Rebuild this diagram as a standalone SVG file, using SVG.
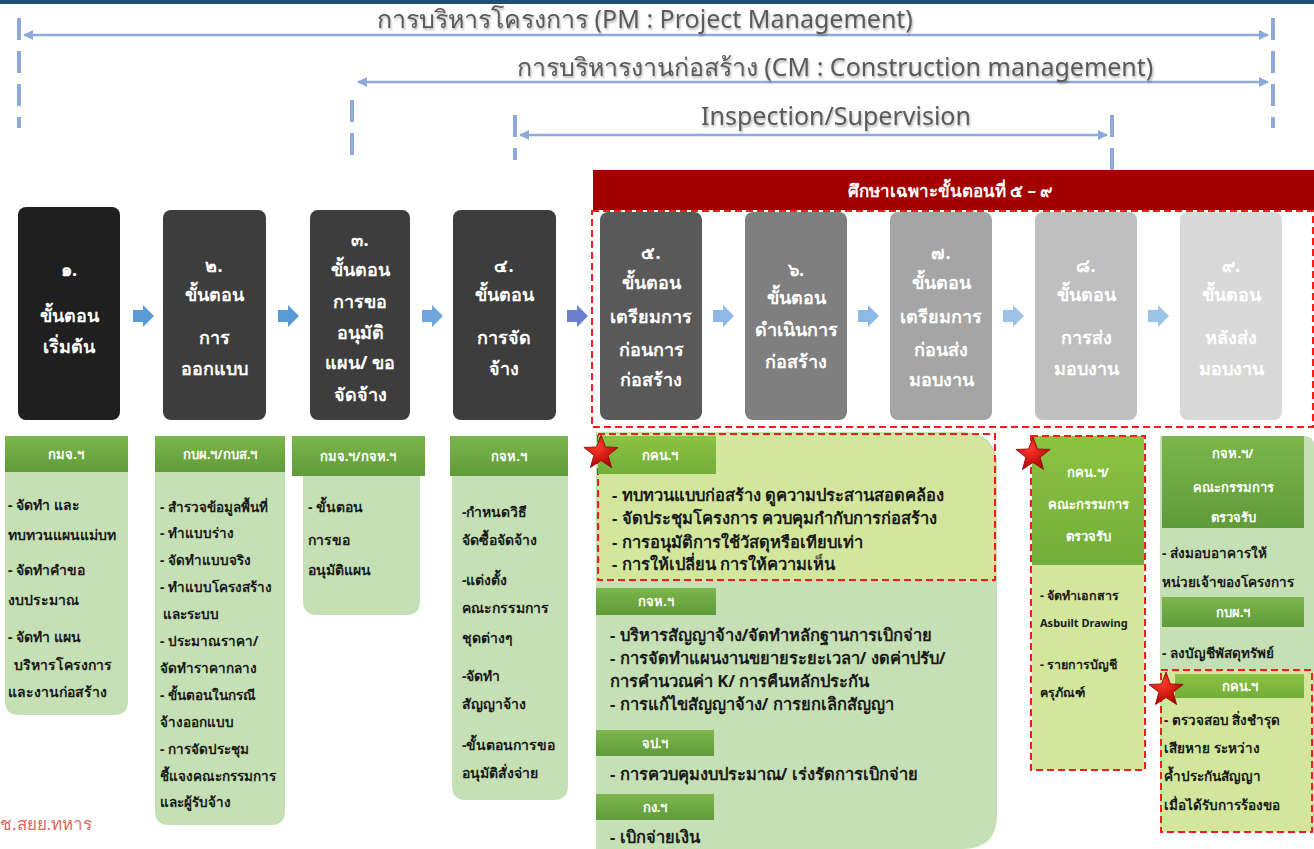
<svg xmlns="http://www.w3.org/2000/svg" width="1314" height="849" viewBox="0 0 1314 849">
<defs>
<style>
.ttl{font-family:"Noto Sans","DejaVu Sans",sans-serif;font-size:25px;fill:#5a5a5a;text-anchor:middle}
.bx{font-family:"Noto Sans","DejaVu Sans",sans-serif;font-size:18px;fill:#ffffff;text-anchor:middle;font-weight:bold}
.hd{font-family:"Noto Sans","DejaVu Sans",sans-serif;font-size:13px;fill:#ffffff;text-anchor:middle;font-weight:bold}
.it{font-family:"Noto Sans","DejaVu Sans",sans-serif;font-size:14px;fill:#1a1a1a;font-weight:bold}
.its{font-family:"Noto Sans","DejaVu Sans",sans-serif;font-size:13.5px;fill:#1a1a1a;font-weight:bold}
.itw{font-family:"Noto Sans","DejaVu Sans",sans-serif;font-size:16.5px;fill:#1a1a1a;font-weight:bold}
.itn{font-family:"Noto Sans","DejaVu Sans",sans-serif;font-size:12.5px;fill:#1a1a1a;font-weight:bold}
.ban{font-family:"Noto Sans","DejaVu Sans",sans-serif;font-size:17px;fill:#ffffff;text-anchor:middle;font-weight:bold}
.vd{stroke:#8eaadb;stroke-width:4;stroke-dasharray:22 11;fill:none}
.hl{stroke:#8eaadb;stroke-width:2.5;fill:none}
.pn{fill:#c5e0b4}
.yg{fill:#d3e79c}
.rd{fill:none;stroke:#ff1a1a;stroke-width:2;stroke-dasharray:7 4}
</style>
<linearGradient id="gh" x1="0" y1="0" x2="0" y2="1">
<stop offset="0" stop-color="#7db64c"/>
<stop offset="1" stop-color="#5f9b39"/>
</linearGradient>
<linearGradient id="gh2" x1="0" y1="0" x2="0" y2="1">
<stop offset="0" stop-color="#8cc341"/>
<stop offset="1" stop-color="#72ad3a"/>
</linearGradient>
<radialGradient id="sg" cx="0.4" cy="0.35" r="0.7">
<stop offset="0" stop-color="#ff3a2a"/>
<stop offset="1" stop-color="#a80000"/>
</radialGradient>
<marker id="ah" viewBox="0 0 10 10" refX="9" refY="5" markerWidth="4" markerHeight="4" orient="auto-start-reverse">
<path d="M0,0 L10,5 L0,10 Z" fill="#8eaadb"/>
</marker>
<path id="star" d="M0,-18 L4.41,-6.07 L17.12,-5.56 L7.13,2.32 L10.58,14.56 L0,7.5 L-10.58,14.56 L-7.13,2.32 L-17.12,-5.56 L-4.41,-6.07 Z" fill="url(#sg)" stroke="#8a0000" stroke-width="0.8"/>
<path id="barr" d="M0,-6 H10 V-11 L21,0 L10,11 V6 H0 Z"/>
<filter id="sh" x="-5%" y="-20%" width="110%" height="150%">
<feDropShadow dx="1" dy="2" stdDeviation="1" flood-color="#000" flood-opacity="0.3"/>
</filter>
</defs>

<rect x="0" y="0" width="1314" height="849" fill="#ffffff"/>
<rect x="0" y="0" width="1314" height="4" fill="#1f4e79"/>

<g id="connectors">
<line class="vd" x1="19" y1="18" x2="19" y2="128"/>
<line class="vd" x1="1273" y1="18" x2="1273" y2="128"/>
<line class="vd" x1="352" y1="100" x2="352" y2="156"/>
<line class="vd" x1="515" y1="115" x2="515" y2="160"/>
<line class="vd" x1="1112" y1="115" x2="1112" y2="170"/>
<line class="hl" x1="24" y1="35" x2="1268" y2="35" marker-start="url(#ah)" marker-end="url(#ah)"/>
<line class="hl" x1="358" y1="82" x2="1268" y2="82" marker-start="url(#ah)" marker-end="url(#ah)"/>
<line class="hl" x1="520" y1="135" x2="1107" y2="135" marker-start="url(#ah)" marker-end="url(#ah)"/>
<use href="#barr" x="133" y="316" fill="#5b9bd5"/>
<use href="#barr" x="278" y="316" fill="#5b9bd5"/>
<use href="#barr" x="422" y="316" fill="#6fa7dc"/>
<use href="#barr" x="567" y="316" fill="#6b7fd0"/>
<use href="#barr" x="713" y="316" fill="#8cb8e6"/>
<use href="#barr" x="858" y="316" fill="#8cb8e6"/>
<use href="#barr" x="1003" y="316" fill="#9dc3e6"/>
<use href="#barr" x="1148" y="316" fill="#9dc3e6"/>
</g>

<g id="titles" filter="url(#sh)">
<text class="ttl" x="645" y="28">การบริหารโครงการ (PM : Project Management)</text>
<text class="ttl" x="835" y="76">การบริหารงานก่อสร้าง (CM : Construction management)</text>
<text class="ttl" x="836" y="125">Inspection/Supervision</text>
</g>

<g id="banner">
<rect x="593" y="170" width="721" height="40" fill="#a30000"/>
<text class="ban" x="950" y="197">ศึกษาเฉพาะขั้นตอนที่ ๕ – ๙</text>
<rect class="rd" x="592" y="211" width="721" height="216"/>
</g>

<g id="step1">
<rect x="18" y="207" width="102" height="213" rx="8" fill="#1f1f1f"/>
<text class="bx" x="69" y="276">๑.</text>
<text class="bx" x="69" y="322">ขั้นตอน</text>
<text class="bx" x="69" y="353">เริ่มต้น</text>
</g>
<g id="step2">
<rect x="163" y="210" width="103" height="210" rx="8" fill="#3d3d3d"/>
<text class="bx" x="214" y="272">๒.</text>
<text class="bx" x="214" y="301">ขั้นตอน</text>
<text class="bx" x="214" y="344">การ</text>
<text class="bx" x="214" y="375">ออกแบบ</text>
</g>
<g id="step3">
<rect x="310" y="210" width="100" height="210" rx="8" fill="#3d3d3d"/>
<text class="bx" x="360" y="246">๓.</text>
<text class="bx" x="360" y="276">ขั้นตอน</text>
<text class="bx" x="360" y="308">การขอ</text>
<text class="bx" x="360" y="339">อนุมัติ</text>
<text class="bx" x="360" y="369">แผน/ ขอ</text>
<text class="bx" x="360" y="401">จัดจ้าง</text>
</g>
<g id="step4">
<rect x="453" y="210" width="103" height="210" rx="8" fill="#3d3d3d"/>
<text class="bx" x="504" y="272">๔.</text>
<text class="bx" x="504" y="301">ขั้นตอน</text>
<text class="bx" x="504" y="344">การจัด</text>
<text class="bx" x="504" y="375">จ้าง</text>
</g>
<g id="step5">
<rect x="600" y="212" width="102" height="208" rx="8" fill="#595959"/>
<text class="bx" x="651" y="259">๕.</text>
<text class="bx" x="651" y="289">ขั้นตอน</text>
<text class="bx" x="651" y="323">เตรียมการ</text>
<text class="bx" x="651" y="356">ก่อนการ</text>
<text class="bx" x="651" y="386">ก่อสร้าง</text>
</g>
<g id="step6">
<rect x="745" y="212" width="102" height="208" rx="8" fill="#7f7f7f"/>
<text class="bx" x="796" y="276">๖.</text>
<text class="bx" x="796" y="304">ขั้นตอน</text>
<text class="bx" x="796" y="336">ดำเนินการ</text>
<text class="bx" x="796" y="368">ก่อสร้าง</text>
</g>
<g id="step7">
<rect x="890" y="212" width="102" height="208" rx="8" fill="#a5a5a5"/>
<text class="bx" x="941" y="259">๗.</text>
<text class="bx" x="941" y="289">ขั้นตอน</text>
<text class="bx" x="941" y="323">เตรียมการ</text>
<text class="bx" x="941" y="356">ก่อนส่ง</text>
<text class="bx" x="941" y="386">มอบงาน</text>
</g>
<g id="step8">
<rect x="1035" y="212" width="102" height="208" rx="8" fill="#bfbfbf"/>
<text class="bx" x="1086" y="272">๘.</text>
<text class="bx" x="1086" y="301">ขั้นตอน</text>
<text class="bx" x="1086" y="344">การส่ง</text>
<text class="bx" x="1086" y="375">มอบงาน</text>
</g>
<g id="step9">
<rect x="1180" y="212" width="102" height="208" rx="8" fill="#d9d9d9"/>
<text class="bx" x="1231" y="272">๙.</text>
<text class="bx" x="1231" y="301">ขั้นตอน</text>
<text class="bx" x="1231" y="344">หลังส่ง</text>
<text class="bx" x="1231" y="375">มอบงาน</text>
</g>

<g id="duty1">
<path class="pn" d="M5,436 H128 V701 Q128,715 114,715 H19 Q5,715 5,701 Z"/>
<rect x="5" y="436" width="123" height="36" fill="url(#gh)"/>
<text class="hd" x="66" y="459">กมจ.ฯ</text>
<text class="it" x="8" y="510">- จัดทำ และ</text>
<text class="it" x="8" y="540">ทบทวนแผนแม่บท</text>
<text class="it" x="8" y="575">- จัดทำคำขอ</text>
<text class="it" x="8" y="605">งบประมาณ</text>
<text class="it" x="8" y="642">- จัดทำ แผน</text>
<text class="it" x="14" y="670">บริหารโครงการ</text>
<text class="it" x="8" y="697">และงานก่อสร้าง</text>
</g>
<g id="duty2">
<path class="pn" d="M155,436 H285 V811 Q285,825 271,825 H169 Q155,825 155,811 Z"/>
<rect x="155" y="436" width="130" height="36" fill="url(#gh)"/>
<text class="hd" x="220" y="459">กบผ.ฯ/กบส.ฯ</text>
<text class="its" x="160" y="512">- สำรวจข้อมูลพื้นที่</text>
<text class="its" x="160" y="538">- ทำแบบร่าง</text>
<text class="its" x="160" y="565">- จัดทำแบบจริง</text>
<text class="its" x="160" y="592">- ทำแบบโครงสร้าง</text>
<text class="its" x="163" y="619">และระบบ</text>
<text class="its" x="160" y="646">- ประมาณราคา/</text>
<text class="its" x="160" y="673">จัดทำราคากลาง</text>
<text class="its" x="160" y="700">- ขั้นตอนในกรณี</text>
<text class="its" x="160" y="727">จ้างออกแบบ</text>
<text class="its" x="160" y="754">- การจัดประชุม</text>
<text class="its" x="160" y="781">ชี้แจงคณะกรรมการ</text>
<text class="its" x="160" y="807">และผู้รับจ้าง</text>
</g>
<g id="duty3">
<path class="pn" d="M303,436 H420 V601 Q420,615 406,615 H317 Q303,615 303,601 Z"/>
<rect x="292" y="436" width="133" height="40" fill="url(#gh)"/>
<text class="hd" x="358" y="461">กมจ.ฯ/กจห.ฯ</text>
<text class="it" x="308" y="512">- ขั้นตอน</text>
<text class="it" x="308" y="545">การขอ</text>
<text class="it" x="308" y="575">อนุมัติแผน</text>
</g>
<g id="duty4">
<path class="pn" d="M452,436 H568 V786 Q568,800 554,800 H466 Q452,800 452,786 Z"/>
<rect x="450" y="436" width="118" height="40" fill="url(#gh)"/>
<text class="hd" x="509" y="461">กจห.ฯ</text>
<text class="it" x="462" y="517">-กำหนดวิธี</text>
<text class="it" x="462" y="545">จัดซื้อจัดจ้าง</text>
<text class="it" x="462" y="585">-แต่งตั้ง</text>
<text class="it" x="462" y="613">คณะกรรมการ</text>
<text class="it" x="462" y="643">ชุดต่างๆ</text>
<text class="it" x="462" y="681">-จัดทำ</text>
<text class="it" x="462" y="709">สัญญาจ้าง</text>
<text class="it" x="462" y="750">-ขั้นตอนการขอ</text>
<text class="it" x="462" y="778">อนุมัติสั่งจ่าย</text>
</g>
<g id="duty5">
<path class="pn" d="M596,432 H962 Q997,432 997,467 V815 Q997,849 962,849 H596 Z"/>
<path class="yg" d="M598,434 H962 Q995,434 995,467 V580 H598 Z"/>
<rect class="rd" x="598" y="434" width="397" height="146"/>
<rect x="598" y="436" width="118" height="38" fill="url(#gh2)"/>
<text class="hd" x="660" y="460">กคน.ฯ</text>
<text class="itw" x="612" y="501">- ทบทวนแบบก่อสร้าง ดูความประสานสอดคล้อง</text>
<text class="itw" x="612" y="524">- จัดประชุมโครงการ ควบคุมกำกับการก่อสร้าง</text>
<text class="itw" x="612" y="548">- การอนุมัติการใช้วัสดุหรือเทียบเท่า</text>
<text class="itw" x="612" y="570">- การให้เปลี่ยน การให้ความเห็น</text>
<rect x="596" y="588" width="120" height="27" fill="url(#gh)"/>
<text class="hd" x="656" y="606">กจห.ฯ</text>
<text class="itw" x="610" y="641">- บริหารสัญญาจ้าง/จัดทำหลักฐานการเบิกจ่าย</text>
<text class="itw" x="610" y="664">- การจัดทำแผนงานขยายระยะเวลา/ งดค่าปรับ/</text>
<text class="itw" x="610" y="687">การคำนวณค่า K/ การคืนหลักประกัน</text>
<text class="itw" x="610" y="710">- การแก้ไขสัญญาจ้าง/ การยกเลิกสัญญา</text>
<rect x="596" y="730" width="118" height="26" fill="url(#gh)"/>
<text class="hd" x="655" y="748">จป.ฯ</text>
<text class="itw" x="610" y="780">- การควบคุมงบประมาณ/ เร่งรัดการเบิกจ่าย</text>
<rect x="596" y="794" width="118" height="26" fill="url(#gh)"/>
<text class="hd" x="655" y="812">กง.ฯ</text>
<text class="itw" x="610" y="843">- เบิกจ่ายเงิน</text>
<use href="#star" x="601" y="453"/>
</g>
<g id="duty8">
<rect class="yg" x="1032" y="436" width="112" height="334"/>
<rect x="1032" y="436" width="112" height="129" fill="url(#gh2)"/>
<text class="hd" x="1088" y="477">กคน.ฯ/</text>
<text class="hd" x="1088" y="509">คณะกรรมการ</text>
<text class="hd" x="1088" y="541">ตรวจรับ</text>
<text class="itn" x="1040" y="600">- จัดทำเอกสาร</text>
<text class="itn" x="1040" y="627" style="font-size:11px">Asbuilt Drawing</text>
<text class="itn" x="1040" y="669">- รายการบัญชี</text>
<text class="itn" x="1040" y="697">ครุภัณฑ์</text>
<rect class="rd" x="1031" y="436" width="114" height="334"/>
<use href="#star" x="1033" y="455"/>
</g>
<g id="duty9">
<path class="pn" d="M1160,436 H1304 Q1314,436 1314,446 V832 H1160 Z"/>
<rect x="1162" y="436" width="142" height="92" fill="url(#gh)"/>
<text class="hd" x="1233" y="458">กจห.ฯ/</text>
<text class="hd" x="1233" y="492">คณะกรรมการ</text>
<text class="hd" x="1233" y="522">ตรวจรับ</text>
<text class="its" x="1162" y="558">- ส่งมอบอาคารให้</text>
<text class="its" x="1162" y="587">หน่วยเจ้าของโครงการ</text>
<rect x="1162" y="597" width="142" height="30" fill="url(#gh)"/>
<text class="hd" x="1233" y="617">กบผ.ฯ</text>
<text class="its" x="1162" y="658">- ลงบัญชีพัสดุทรัพย์</text>
<rect class="yg" x="1161" y="670" width="151" height="162"/>
<rect x="1175" y="674" width="129" height="24" fill="url(#gh2)"/>
<text class="hd" x="1240" y="691">กคน.ฯ</text>
<text class="its" x="1164" y="725">- ตรวจสอบ สิ่งชำรุด</text>
<text class="its" x="1164" y="753">เสียหาย ระหว่าง</text>
<text class="its" x="1164" y="781">ค้ำประกันสัญญา</text>
<text class="its" x="1164" y="810">เมื่อได้รับการร้องขอ</text>
<rect class="rd" x="1161" y="670" width="151" height="162"/>
<use href="#star" x="1166" y="690"/>
</g>
<text x="0" y="830" font-family="Noto Sans, DejaVu Sans, sans-serif" font-size="17" fill="#e06666">ช.สยย.ทหาร</text>
</svg>
